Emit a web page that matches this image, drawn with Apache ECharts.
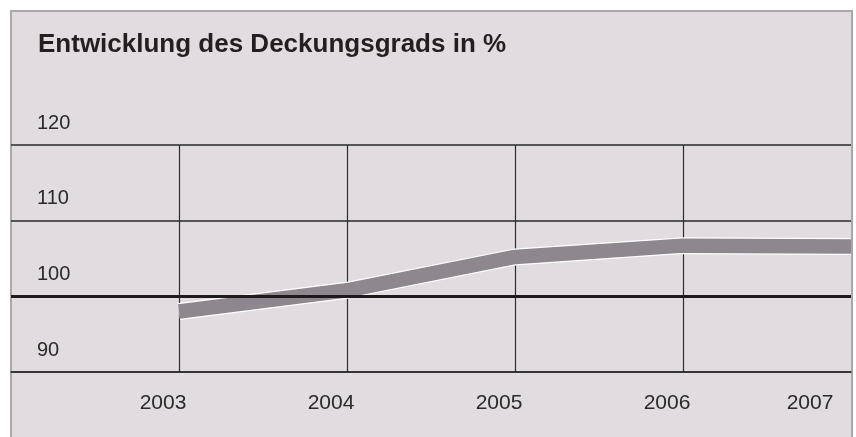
<!DOCTYPE html>
<html>
<head>
<meta charset="utf-8">
<script src="https://cdn.jsdelivr.net/npm/echarts@6/dist/echarts.min.js"></script>
<style>
	html, body {
		margin: 0;
		padding: 0;
		background: #fff;
	}
	.frame {
		position: absolute;
		left: 10px;
		top: 10px;
		width: 839px;
		height: 440px;
		background: #e0dcdf;
		border-left: 2px solid #aaa6a9;
		border-top: 2px solid #aaa6a9;
		border-right: 2px solid #aaa6a9;
	}
	#chart {
		position: absolute;
		left: 0;
		top: 0;
		width: 856px;
		height: 437px;
	}
</style>
</head>
<body>
<div class="frame"></div>
<div id="chart"></div>
<script>
// Deckungsgrad in % per year
const years = [2003, 2004, 2005, 2006, 2007]
const coverage = [98.0, 100.8, 105.2, 106.7, 106.6]
const yTicks = [90, 100, 110, 120]

const chart = echarts.init(document.getElementById('chart'))

const points = years.map((y, i) => [y, coverage[i]])
const font = '"Liberation Sans", Arial, sans-serif'

const option = {
	animation: false,
	title: {
		text: 'Entwicklung des Deckungsgrads in %',
		left: 33,
		top: 27,
		textStyle: {
			fontFamily: font,
			fontWeight: 'bold',
			fontSize: 26,
			color: '#231f20'
		}
	},
	grid: {
		left: 11,
		right: 5,
		top: 145,
		bottom: 65,
		outerBoundsMode: 'none',
		containLabel: false
	},
	xAxis: {
		type: 'value',
		min: 2002,
		max: 2007,
		interval: 1,
		axisLine: { show: true, lineStyle: { color: '#2b2b2b', width: 1.5 } },
		axisTick: { show: false },
		splitLine: {
			show: true,
			lineStyle: {
				color: ['transparent', '#2b2b2b', '#2b2b2b', '#2b2b2b', '#2b2b2b', 'transparent'],
				width: 1.2
			}
		},
		axisLabel: {
			showMinLabel: false,
			hideOverlap: false,
			margin: 21,
			fontFamily: font,
			fontSize: 21,
			lineHeight: 21,
			color: '#2a2a2a',
			formatter: (v) => (v === 2007 ? '{l|' + v + '}' : '{n|' + v + '}'),
			rich: {
				n: { fontFamily: font, fontSize: 21, color: '#2a2a2a', padding: [0, 32, 0, 0] },
				l: { fontFamily: font, fontSize: 21, color: '#2a2a2a', padding: [0, 82, 0, 0] }
			}
		}
	},
	yAxis: {
		type: 'value',
		min: 90,
		max: 120,
		interval: 10,
		axisLine: { show: false },
		axisTick: { show: false },
		splitLine: { lineStyle: { color: '#2b2b2b', width: 1.5 } },
		axisLabel: {
			inside: true,
			margin: 26,
			align: 'left',
			verticalAlign: 'bottom',
			padding: [0, 0, 12, 0],
			fontFamily: font,
			fontSize: 20,
			lineHeight: 20,
			color: '#2a2a2a',
			formatter: (v) => (yTicks.includes(v) ? String(v) : '')
		}
	},
	series: [
		{
			type: 'line',
			data: points,
			showSymbol: false,
			silent: true,
			lineStyle: { color: '#ffffff', width: 17 },
			markLine: {
				silent: true,
				symbol: 'none',
				label: { show: false },
				lineStyle: { color: '#1e1a1b', width: 3, type: 'solid' },
				data: [{ yAxis: 100 }]
			},
			z: 2
		},
		{
			type: 'line',
			data: points,
			showSymbol: false,
			silent: true,
			lineStyle: { color: '#8e878d', width: 14.5 },
			z: 3
		}
	]
}

chart.setOption(option)
</script>
</body>
</html>
